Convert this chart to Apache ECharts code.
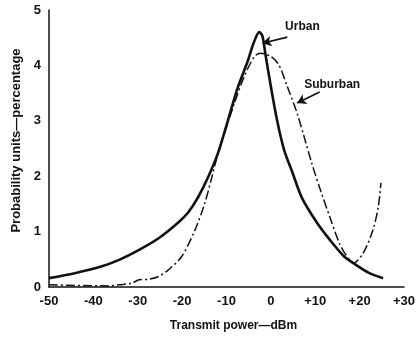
<!DOCTYPE html>
<html>
<head>
<meta charset="utf-8">
<script src="https://cdn.jsdelivr.net/npm/echarts@6/dist/echarts.min.js"></script>
<style>
html,body{margin:0;padding:0;background:#fff;}
#chart{width:418px;height:343px;}
</style>
</head>
<body>
<div id="chart"></div>
<script>
var xTicks = [-50, -40, -30, -20, -10, 0, 10, 20, 30];
var yTicks = [0, 1, 2, 3, 4, 5];

var urbanX = [-50, -44.2, -38.6, -34.2, -29.7, -25.3, -20.8, -18.6, -16.4, -14.1, -11.9, -9.7, -7.5, -5.2, -3.9, -2.6, -1.9, -1.2, 0.0, 1.4, 3.0, 4.8, 7.0, 10.4, 13.3, 16.4, 18.6, 22.2, 25.3];
var urbanY = [0.16, 0.25, 0.36, 0.49, 0.67, 0.88, 1.17, 1.35, 1.62, 1.99, 2.42, 3.00, 3.59, 4.08, 4.40, 4.60, 4.53, 4.19, 3.62, 3.01, 2.47, 2.08, 1.61, 1.16, 0.85, 0.56, 0.43, 0.25, 0.16];

var suburbanX = [-50, -36.4, -34.2, -31.3, -29.7, -27.5, -25.3, -23.1, -20.1, -17.1, -14.9, -13.4, -11.9, -8.2, -6.0, -3.7, -2.3, 0.0, 1.8, 3.7, 5.9, 7.5, 9.2, 11.0, 13.3, 15.5, 17.5, 18.6, 20.8, 23.0, 24.2, 24.8];
var suburbanY = [0.04, 0.02, 0.04, 0.07, 0.13, 0.14, 0.19, 0.31, 0.55, 1.03, 1.51, 1.95, 2.41, 3.32, 3.80, 4.16, 4.22, 4.16, 4.01, 3.62, 3.14, 2.71, 2.24, 1.79, 1.26, 0.78, 0.51, 0.43, 0.61, 1.03, 1.44, 1.88];

var labels = ['Urban', 'Suburban'];
var labelPos = [[3.2, 4.69], [7.5, 3.65]];
var arrowFrom = [[3.7, 4.51], [11.0, 3.52]];
var arrowTo = [[-1.9, 4.40], [5.9, 3.32]];

function zip(a, b) { return a.map(function (v, i) { return [v, b[i]]; }); }

var FONT = "'Liberation Sans', Arial, sans-serif";
var chart = echarts.init(document.getElementById('chart'), null, {renderer: 'canvas'});
var option = {
  animation: false,
  backgroundColor: '#fff',
  grid: {left: 49, right: 10, top: 10, bottom: 56, containLabel: false},
  xAxis: {
    type: 'value', min: xTicks[0], max: xTicks[xTicks.length - 1], interval: 10,
    name: 'Transmit power\u2014dBm', nameLocation: 'middle', nameGap: 33,
    nameTextStyle: {fontFamily: FONT, fontWeight: 'bold', fontSize: 12, color: '#111', padding: [0, 0, 0, 14]},
    axisLine: {show: true, onZero: false, lineStyle: {color: '#111', width: 1.5}},
    axisTick: {show: false},
    splitLine: {show: false},
    axisLabel: {fontFamily: FONT, fontWeight: 'bold', fontSize: 13, color: '#111', margin: 8,
      formatter: function (v) { return v > 0 ? '+' + v : '' + v; }}
  },
  yAxis: {
    type: 'value', min: yTicks[0], max: yTicks[yTicks.length - 1], interval: 1,
    name: 'Probability units\u2014percentage', nameLocation: 'middle', nameGap: 25,
    nameTextStyle: {fontFamily: FONT, fontWeight: 'bold', fontSize: 13, color: '#111', padding: [0, 0, 0, 16]},
    axisLine: {show: true, onZero: false, lineStyle: {color: '#111', width: 1.5}},
    axisTick: {show: false},
    splitLine: {show: false},
    axisLabel: {fontFamily: FONT, fontWeight: 'bold', fontSize: 13, color: '#111', margin: 8}
  },
  series: [
    {
      name: 'Urban', type: 'line', smooth: 0.3, symbol: 'none',
      data: zip(urbanX, urbanY),
      lineStyle: {color: '#111', width: 2.6},
      markLine: {
        silent: true, symbol: ['none', 'arrow'], symbolSize: [8, 9],
        lineStyle: {color: '#111', width: 1.6, type: 'solid'},
        label: {show: false},
        data: [[{coord: arrowFrom[0]}, {coord: arrowTo[0]}], [{coord: arrowFrom[1]}, {coord: arrowTo[1]}]]
      },
      markPoint: {
        symbol: 'circle', symbolSize: 0,
        label: {show: true, position: 'right', distance: 0, fontFamily: FONT, fontWeight: 'bold', fontSize: 12, color: '#111',
          formatter: function (p) { return p.name; }},
        data: labels.map(function (t, i) { return {name: t, coord: labelPos[i]}; })
      }
    },
    {
      name: 'Suburban', type: 'line', smooth: 0.3, symbol: 'none',
      data: zip(suburbanX, suburbanY),
      lineStyle: {color: '#111', width: 1.5, type: [9, 3, 2, 3]}
    }
  ]
};
chart.setOption(option);
</script>
</body>
</html>
